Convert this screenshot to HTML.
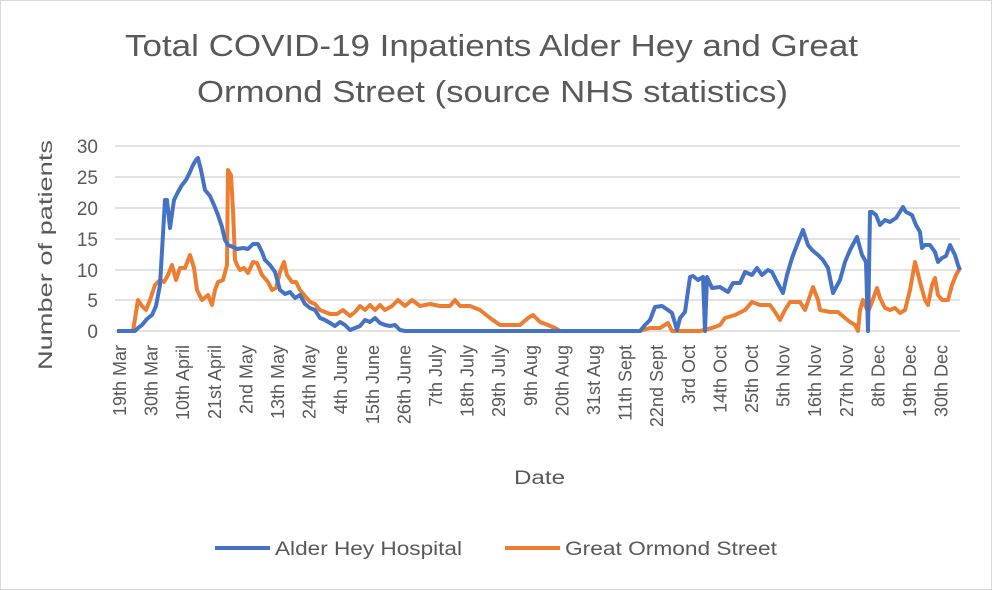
<!DOCTYPE html>
<html><head><meta charset="utf-8"><style>
body{margin:0;background:#fff;}
svg{display:block;font-family:"Liberation Sans",sans-serif;}
</style></head><body>
<svg width="992" height="590" viewBox="0 0 992 590" xmlns="http://www.w3.org/2000/svg">
<rect x="0.5" y="0.5" width="991" height="589" fill="#fff" stroke="#d9d9d9"/>
<text x="125" y="56" font-size="31" fill="#595959" textLength="733" lengthAdjust="spacingAndGlyphs">Total COVID-19 Inpatients Alder Hey and Great</text>
<text x="197" y="102" font-size="31" fill="#595959" textLength="591" lengthAdjust="spacingAndGlyphs">Ormond Street (source NHS statistics)</text>
<g stroke="#d9d9d9" stroke-width="1.5">
<line x1="115" y1="146" x2="960" y2="146"/><line x1="115" y1="177" x2="960" y2="177"/>
<line x1="115" y1="208" x2="960" y2="208"/><line x1="115" y1="239" x2="960" y2="239"/>
<line x1="115" y1="270" x2="960" y2="270"/><line x1="115" y1="300" x2="960" y2="300"/>
<line x1="115" y1="331" x2="960" y2="331"/>
</g>
<g font-size="19" fill="#595959" text-anchor="end">
<text x="98" y="153">30</text><text x="98" y="184">25</text><text x="98" y="215">20</text>
<text x="98" y="246">15</text><text x="98" y="277">10</text><text x="98" y="307">5</text><text x="98" y="338">0</text>
</g>
<text transform="translate(52,370) rotate(-90)" font-size="19" fill="#595959" textLength="230" lengthAdjust="spacingAndGlyphs">Number of patients</text>
<g font-size="18" fill="#595959" text-anchor="end">
<text transform="translate(126,345) rotate(-90)">19th Mar</text>
<text transform="translate(157.6,345) rotate(-90)">30th Mar</text>
<text transform="translate(189.2,345) rotate(-90)">10th April</text>
<text transform="translate(220.8,345) rotate(-90)">21st April</text>
<text transform="translate(252.4,345) rotate(-90)">2nd May</text>
<text transform="translate(284,345) rotate(-90)">13th May</text>
<text transform="translate(315.6,345) rotate(-90)">24th May</text>
<text transform="translate(347.2,345) rotate(-90)">4th June</text>
<text transform="translate(378.8,345) rotate(-90)">15th June</text>
<text transform="translate(410.4,345) rotate(-90)">26th June</text>
<text transform="translate(442,345) rotate(-90)">7th July</text>
<text transform="translate(473.6,345) rotate(-90)">18th July</text>
<text transform="translate(505.2,345) rotate(-90)">29th July</text>
<text transform="translate(536.8,345) rotate(-90)">9th Aug</text>
<text transform="translate(568.4,345) rotate(-90)">20th Aug</text>
<text transform="translate(600,345) rotate(-90)">31st Aug</text>
<text transform="translate(631.6,345) rotate(-90)">11th Sept</text>
<text transform="translate(663.2,345) rotate(-90)">22nd Sept</text>
<text transform="translate(694.8,345) rotate(-90)">3rd Oct</text>
<text transform="translate(726.4,345) rotate(-90)">14th Oct</text>
<text transform="translate(758,345) rotate(-90)">25th Oct</text>
<text transform="translate(789.6,345) rotate(-90)">5th Nov</text>
<text transform="translate(821.2,345) rotate(-90)">16th Nov</text>
<text transform="translate(852.8,345) rotate(-90)">27th Nov</text>
<text transform="translate(884.4,345) rotate(-90)">8th Dec</text>
<text transform="translate(916,345) rotate(-90)">19th Dec</text>
<text transform="translate(947.6,345) rotate(-90)">30th Dec</text>
</g>
<text x="514" y="484" font-size="19" fill="#595959" textLength="51" lengthAdjust="spacingAndGlyphs">Date</text>
<polyline fill="none" stroke="#ed7d31" stroke-width="4" stroke-linejoin="round" points="117,331 133,331 138,300 142,306 146,310 150,300 155,285 160,280 164,282 168,275 172,265 176,280 180,268 185,268 190,255 194,268 197,290 202,300 208,295 212,305 215,290 218,282 223,280 227,265 228,170 231,175 233,210 235,260 237,265 240,270 244,268 248,273 253,262 257,263 262,275 268,282 272,290 276,288 280,272 284,262 287,275 292,282 296,282 300,290 305,296 310,302 315,304 320,310 325,312 330,314 337,314 343,310 350,316 355,312 360,306 365,310 370,305 375,310 380,305 385,310 392,306 398,300 405,306 412,300 420,306 430,304 440,306 450,306 455,300 460,306 470,306 480,310 490,318 500,325 510,325 520,325 528,318 533,315 540,322 548,325 555,328 560,331 600,331 640,331 650,328 660,328 668,323 672,331 700,331 712,328 720,325 725,318 735,315 745,310 752,302 760,305 770,305 775,312 780,320 785,310 790,302 800,302 805,310 813,287 818,300 820,310 830,312 838,312 845,318 850,322 855,325 858,331 860,310 863,300 868,312 872,302 877,288 880,298 885,308 890,310 895,308 900,313 905,310 910,290 915,262 920,282 925,300 928,305 932,285 935,278 938,295 942,300 948,300 952,285 956,275 960,268"/>
<polyline fill="none" stroke="#4472c4" stroke-width="4" stroke-linejoin="round" points="117,331 135,331 138,328 142,325 147,319 152,315 156,306 160,285 165,200 167,200 170,228 174,200 178,192 182,185 186,180 190,172 193,165 196,160 198,158 201,170 205,190 210,196 214,205 218,215 222,227 225,240 228,245 233,247 237,249 243,248 248,249 253,244 258,244 262,252 265,260 270,265 275,272 280,290 285,294 290,292 295,298 300,295 305,304 310,308 315,310 320,318 325,320 330,323 335,326 340,322 345,325 350,330 355,328 360,326 365,320 370,322 375,318 380,323 385,325 390,326 395,325 400,330 405,331 640,331 645,325 650,320 655,307 662,306 668,310 672,313 677,330 680,318 685,312 690,277 693,276 698,280 703,277 705,331 707,277 712,288 720,287 728,292 733,283 740,283 745,272 752,275 757,268 762,275 768,270 772,272 777,282 783,293 787,275 792,258 797,245 803,230 808,245 812,250 818,255 823,260 828,268 833,293 840,280 845,262 850,250 857,237 862,255 866,262 868,331 870,212 872,212 876,215 880,225 885,220 890,222 896,218 903,207 906,212 912,215 916,225 920,232 922,248 925,245 930,245 935,252 938,262 942,258 946,256 950,245 955,255 958,265 960,270"/>
<line x1="215" y1="548" x2="270" y2="548" stroke="#4472c4" stroke-width="4"/>
<text x="275" y="555" font-size="19" fill="#595959" textLength="187" lengthAdjust="spacingAndGlyphs">Alder Hey Hospital</text>
<line x1="505" y1="548" x2="560" y2="548" stroke="#ed7d31" stroke-width="4"/>
<text x="565" y="555" font-size="19" fill="#595959" textLength="212" lengthAdjust="spacingAndGlyphs">Great Ormond Street</text>
</svg>
</body></html>
